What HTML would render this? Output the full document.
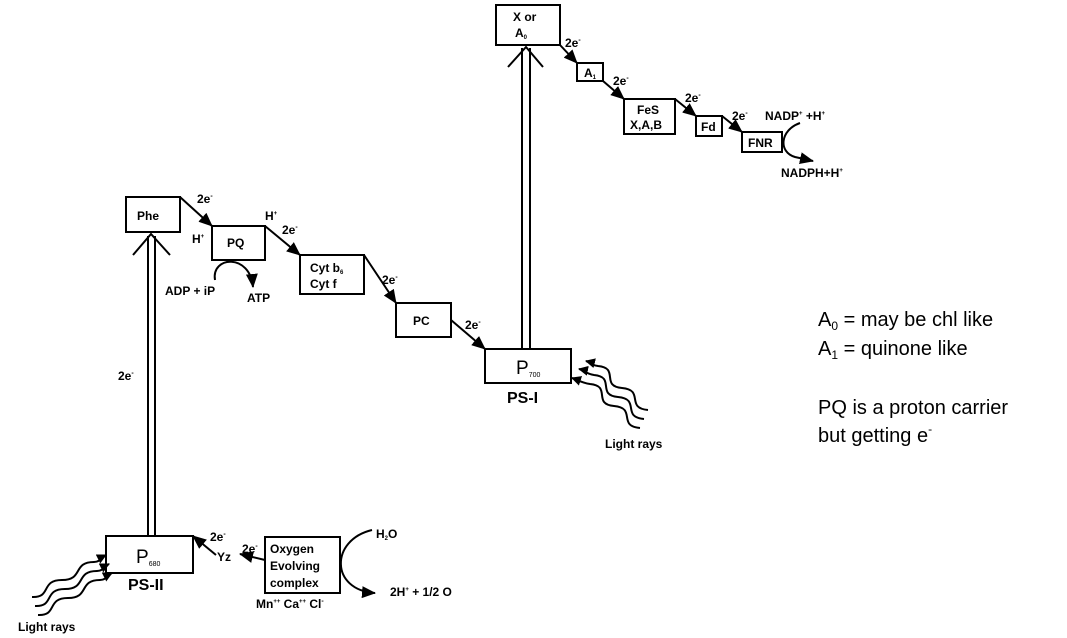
<!DOCTYPE html>
<html><head><meta charset="utf-8"><style>
body{margin:0;background:#fff;}
svg{display:block;font-family:"Liberation Sans",Arial,sans-serif;}
.b{font-weight:bold;font-size:12px;}
.bx{fill:#fff;stroke:#000;stroke-width:2;}
.ln{stroke:#000;stroke-width:2;fill:none;}
</style></head><body>
<svg width="1067" height="638" viewBox="0 0 1067 638">
<defs><marker id="a" markerWidth="10" markerHeight="10" refX="9" refY="5" orient="auto" markerUnits="userSpaceOnUse"><path d="M0,0 L10,5 L0,10 z" fill="#000"/></marker>
<marker id="s" markerWidth="14" markerHeight="12" refX="13" refY="6" orient="auto" markerUnits="userSpaceOnUse"><path d="M0,0 L14,6 L0,12 z" fill="#000"/></marker></defs>

<rect class="bx" x="496" y="5" width="64" height="40"/>
<text class="b" x="513" y="21">X or</text><text class="b" x="515" y="37">A<tspan font-size="6" dy="2">0</tspan></text>
<rect class="bx" x="577" y="63" width="26" height="18"/><text class="b" x="584" y="77">A<tspan font-size="6" dy="2">1</tspan></text>
<rect class="bx" x="624" y="99" width="51" height="35"/><text class="b" x="637" y="114">FeS</text><text class="b" x="630" y="129">X,A,B</text>
<rect class="bx" x="696" y="116" width="26" height="20"/><text class="b" x="701" y="131">Fd</text>
<rect class="bx" x="742" y="132" width="40" height="20"/><text class="b" x="748" y="147">FNR</text>
<rect class="bx" x="126" y="197" width="54" height="35"/><text class="b" x="137" y="220">Phe</text>
<rect class="bx" x="212" y="226" width="53" height="34"/><text class="b" x="227" y="247">PQ</text>
<rect class="bx" x="300" y="255" width="64" height="39"/><text class="b" x="310" y="272">Cyt b<tspan font-size="6" dy="2">6</tspan></text><text class="b" x="310" y="288">Cyt f</text>
<rect class="bx" x="396" y="303" width="55" height="34"/><text class="b" x="413" y="325">PC</text>
<rect class="bx" x="485" y="349" width="86" height="34"/><text x="516" y="374" font-size="19">P<tspan font-size="7" dy="3">700</tspan></text>
<text x="507" y="403" font-weight="bold" font-size="16">PS-I</text>
<rect class="bx" x="106" y="536" width="87" height="37"/><text x="136" y="563" font-size="19">P<tspan font-size="7" dy="3">680</tspan></text>
<text x="128" y="590" font-weight="bold" font-size="16">PS-II</text>
<rect class="bx" x="265" y="537" width="75" height="56"/>
<text class="b" x="270" y="553">Oxygen</text><text class="b" x="270" y="570">Evolving</text><text class="b" x="270" y="587">complex</text>
<text class="b" x="256" y="608">Mn<tspan font-size="6" dy="-5">++</tspan><tspan dy="5"> Ca</tspan><tspan font-size="6" dy="-5">++</tspan><tspan dy="5"> Cl</tspan><tspan font-size="7" dy="-5">-</tspan></text>

<line class="ln" x1="148" y1="236" x2="148" y2="536"/><line class="ln" x1="155" y1="236" x2="155" y2="536"/>
<polyline class="ln" points="133,255 151,234 170,255"/>
<line class="ln" x1="522" y1="48" x2="522" y2="349"/><line class="ln" x1="530" y1="48" x2="530" y2="349"/>
<polyline class="ln" points="508,67 526,47 543,67"/>

<g class="ln" marker-end="url(#s)">
<path d="M560,45 L577,63"/>
<path d="M603,81 L624,99"/>
<path d="M675,99 L696,116"/>
<path d="M722,116 L742,132"/>
<path d="M180,197 L212,226"/>
<path d="M265,226 L300,255"/>
<path d="M364,255 L396,303"/>
<path d="M451,320 L485,349"/>
<path d="M216,555 L193,536"/>
<path d="M265,560 L240,554"/>
<path d="M800,123 C780,130 778,152 795,157 L813,161"/>
<path d="M215,280 C211,256 250,253 253,287"/>
<path d="M372,530 C330,540 330,590 375,593"/>
</g>

<g class="b">
<text x="565" y="47">2e<tspan font-size="7" dy="-5">-</tspan></text>
<text x="613" y="85">2e<tspan font-size="7" dy="-5">-</tspan></text>
<text x="685" y="102">2e<tspan font-size="7" dy="-5">-</tspan></text>
<text x="732" y="120">2e<tspan font-size="7" dy="-5">-</tspan></text>
<text x="765" y="120">NADP<tspan font-size="6" dy="-5">+</tspan><tspan dy="5"> +H</tspan><tspan font-size="6" dy="-5">+</tspan></text>
<text x="781" y="177">NADPH+H<tspan font-size="6" dy="-5">+</tspan></text>
<text x="197" y="203">2e<tspan font-size="7" dy="-5">-</tspan></text>
<text x="192" y="243">H<tspan font-size="6" dy="-5">+</tspan></text>
<text x="265" y="220">H<tspan font-size="6" dy="-5">+</tspan></text>
<text x="282" y="234">2e<tspan font-size="7" dy="-5">-</tspan></text>
<text x="165" y="295">ADP + iP</text>
<text x="247" y="302">ATP</text>
<text x="382" y="284">2e<tspan font-size="7" dy="-5">-</tspan></text>
<text x="465" y="329">2e<tspan font-size="7" dy="-5">-</tspan></text>
<text x="118" y="380">2e<tspan font-size="7" dy="-5">-</tspan></text>
<text x="210" y="541">2e<tspan font-size="7" dy="-5">-</tspan></text>
<text x="217" y="561">Yz</text>
<text x="242" y="553">2e<tspan font-size="7" dy="-5">-</tspan></text>
<text x="376" y="538">H<tspan font-size="6" dy="2">2</tspan><tspan dy="-2">O</tspan></text>
<text x="390" y="596">2H<tspan font-size="6" dy="-5">+</tspan><tspan dy="5"> + 1/2 O</tspan></text>
<text x="605" y="448">Light rays</text>
<text x="18" y="631">Light rays</text>
</g>

<g class="ln" stroke-width="1.8" marker-end="url(#a)">
<path d="M648,410 C625,408 645,390 622,388 C600,386 620,368 598,366 C590,365 590,362 586,361"/>
<path d="M644,419 C621,417 641,399 618,397 C596,395 616,377 594,375 C586,374 584,370 579,369"/>
<path d="M640,428 C617,426 637,408 614,406 C592,404 612,386 590,384 C582,383 578,380 572,378"/>
<path d="M32,597 C52,598 40,580 62,580 C84,580 72,562 94,562 C100,562 102,557 106,555"/>
<path d="M35,606 C55,607 43,589 65,589 C87,589 75,571 97,571 C103,571 105,566 109,564"/>
<path d="M38,615 C58,616 46,598 68,598 C90,598 78,580 100,580 C106,580 108,575 112,573"/>
</g>

<g font-size="20">
<text x="818" y="326">A<tspan font-size="12" dy="4">0</tspan><tspan dy="-4"> = may be chl like</tspan></text>
<text x="818" y="355">A<tspan font-size="12" dy="4">1</tspan><tspan dy="-4"> = quinone like</tspan></text>
<text x="818" y="414">PQ is a proton carrier</text>
<text x="818" y="442">but getting e<tspan font-size="12" dy="-9">-</tspan></text>
</g>
</svg>
</body></html>
